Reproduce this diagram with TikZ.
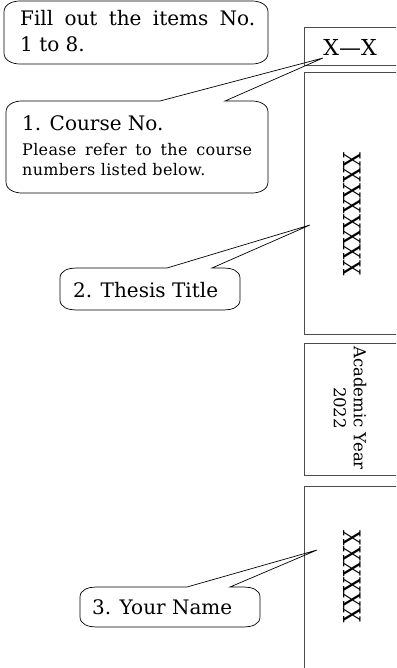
\documentclass[tikz,border=0pt]{standalone}
\usepackage{fontspec}
\setmainfont{DejaVu Serif}

\begin{document}
\begin{tikzpicture}[x=1pt,y=-1pt,
    spine/.style={draw=black!70,line width=0.8pt,anchor=north west,minimum width=120pt,inner sep=0pt},
    bubble/.style={draw,line width=0.7pt,line join=miter},
    big/.style={anchor=base west,inner sep=0pt,font=\fontsize{20}{24}\selectfont},
    small/.style={anchor=base west,inner sep=0pt,font=\fontsize{16}{19}\selectfont\addfontfeature{LetterSpace=2}}]
\clip (0,0) rectangle (396,668);

% spine of the thesis cover
\node (codebox) at (304,27) [spine,minimum height=38pt] {};
\node (titlebox) at (304,72) [spine,minimum height=262pt] {};
\node (yearbox) at (304,343) [spine,minimum height=132pt] {};
\node (namebox) at (304,486) [spine,minimum height=200pt] {};

\node (code) at (350,47) [font=\fontsize{22}{22}\selectfont] {X—X};
\node (title) at (352,214) [rotate=-90,font=\fontsize{24}{24}\selectfont] {\scalebox{0.9}[1]{XXXXXXXX}};
\node (year) at (350,408) [rotate=-90,align=center,font=\fontsize{16.5}{20}\selectfont] {Academic Year\\2022};
\node (name) at (352,577) [rotate=-90,font=\fontsize{24}{24}\selectfont] {\scalebox{0.9}[1]{XXXXXX}};

% note at the top
\draw[bubble] (4,12) to[out=90,in=180] (20,1) -- (252,1) to[out=0,in=90] (268,12)
    -- (268,53) to[out=-90,in=0] (252,64) -- (20,64) to[out=180,in=-90] (4,53) -- cycle;
\node (fill1) at (20,26) [big] {\makebox[235pt][s]{Fill out the items No.}};
\node (fill2) at (20,52) [big] {1 to 8.};

% 1. course
\coordinate (codetip) at (323,58);
\coordinate (c1) at (160,101);
\coordinate (c2) at (225,101);
\draw[bubble] (c2) -- (252,101) to[out=0,in=90] (268,112) -- (268,182) to[out=-90,in=0] (252,193)
    -- (22,193) to[out=180,in=-90] (6,182) -- (6,112) to[out=90,in=180] (22,101) -- (c1) -- (codetip) -- cycle;
\node (course1) at (22,131) [big] {1. Course No.};
\node (course2) at (22,156) [small] {\makebox[230pt][s]{Please refer to the course}};
\node (course3) at (22,176) [small] {numbers listed below.};

% 2. thesis title
\coordinate (titletip) at (310,225);
\coordinate (t1) at (167,268);
\coordinate (t2) at (212,268);
\draw[bubble] (t2) -- (224,268) to[out=0,in=90] (240,278) -- (240,300) to[out=-90,in=0] (224,310)
    -- (76,310) to[out=180,in=-90] (60,300) -- (60,278) to[out=90,in=180] (76,268) -- (t1) -- (titletip) -- cycle;
\node (thesis) at (73,297) [big] {2. Thesis Title};

% 3. your name
\coordinate (nametip) at (317,550);
\coordinate (n1) at (187,587);
\coordinate (n2) at (230,587);
\draw[bubble] (n2) -- (244,587) to[out=0,in=90] (260,597) -- (260,617) to[out=-90,in=0] (244,627)
    -- (96,627) to[out=180,in=-90] (80,617) -- (80,597) to[out=90,in=180] (96,587) -- (n1) -- (nametip) -- cycle;
\node (yourname) at (92,614) [big] {3. Your Name};
\end{tikzpicture}
\end{document}
